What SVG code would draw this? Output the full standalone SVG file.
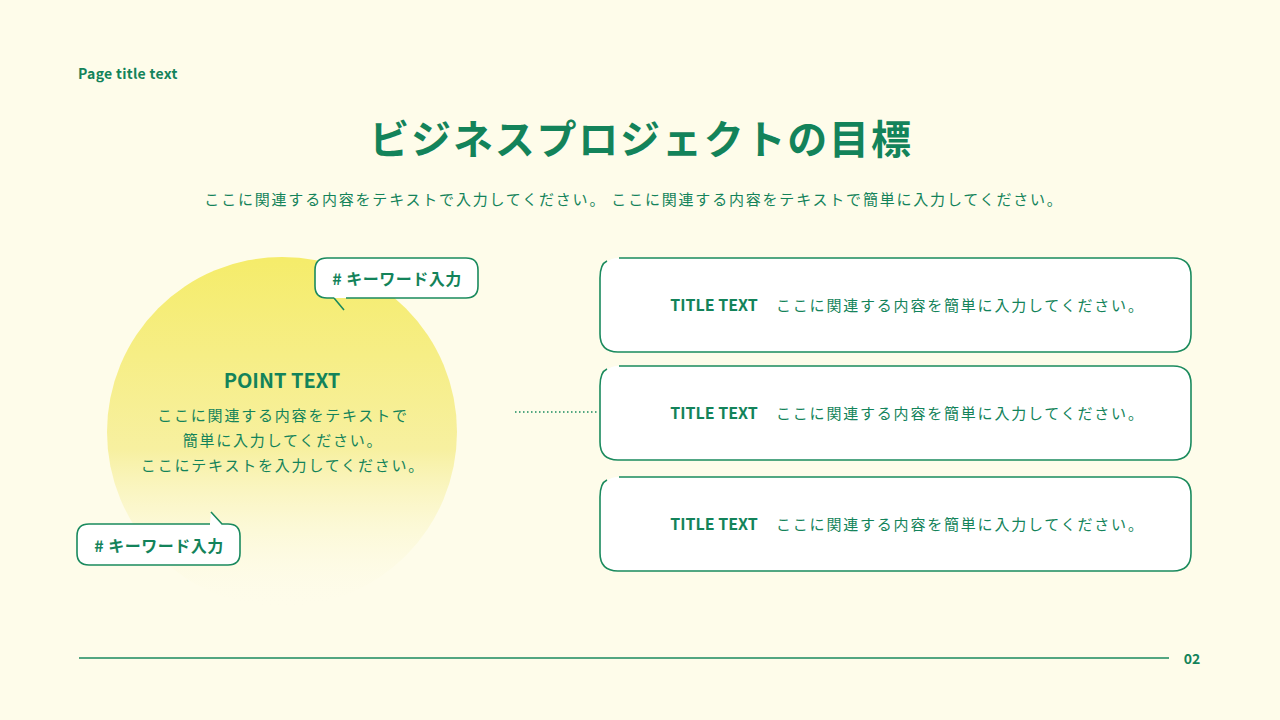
<svg xmlns="http://www.w3.org/2000/svg" width="1280" height="720" viewBox="0 0 1280 720">
<style>
text{font-family:"Noto Sans CJK JP","Noto Sans",sans-serif;fill:#13835a}
.b{font-weight:700}
.j{letter-spacing:1.8px}
.box{fill:#fff;stroke:#1a8a5e;stroke-width:1.6}
.wl{fill:none;stroke:#1a8a5e;stroke-width:1.6}
</style>
<defs>
<linearGradient id="g" x1="0" y1="0" x2="0" y2="1">
<stop offset="0" stop-color="#f5ec6a"/>
<stop offset="0.55" stop-color="#f7f0a0"/>
<stop offset="1" stop-color="#fdfbe8" stop-opacity="0"/>
</linearGradient>
</defs>
<rect width="1280" height="720" fill="#fefcea"/>
<text x="78" y="79" font-size="14" class="b" letter-spacing="0.3">Page title text</text>
<text x="641" y="154" font-size="40" text-anchor="middle" class="b j">ビジネスプロジェクトの目標</text>
<text x="634" y="205" font-size="15" text-anchor="middle" class="j">ここに関連する内容をテキストで入力してください。 ここに関連する内容をテキストで簡単に入力してください。</text>
<circle id="circle" cx="282" cy="432" r="175" fill="url(#g)"/>
<g id="point">
<text x="282" y="388" font-size="20" text-anchor="middle" class="b">POINT TEXT</text>
<text x="283" y="421" font-size="15" text-anchor="middle" class="j">ここに関連する内容をテキストで</text>
<text x="283" y="446" font-size="15" text-anchor="middle" class="j">簡単に入力してください。</text>
<text x="283" y="471" font-size="15" text-anchor="middle" class="j">ここにテキストを入力してください。</text>
</g>
<g id="bubble1">
<path class="box" d="M334,298 H327 Q315,298 315,286 V270 Q315,258 327,258 H466 Q478,258 478,270 V286 Q478,298 466,298 H346 M334,298 L344,310"/>
<text x="397" y="285" font-size="16" text-anchor="middle" class="b" letter-spacing="0.5"># キーワード入力</text>
</g>
<g id="bubble2">
<path class="box" d="M210,524 H89 Q77,524 77,536 V553 Q77,565 89,565 H228 Q240,565 240,553 V536 Q240,524 228,524 H222 L211,512"/>
<text x="159" y="552" font-size="16" text-anchor="middle" class="b" letter-spacing="0.5"># キーワード入力</text>
</g>
<g id="connectors">
<line x1="515" y1="412" x2="598" y2="412" stroke="#1a8a5e" stroke-width="1.5" stroke-dasharray="1.5,2.5"/>
</g>
<g id="box1">
<rect x="600" y="258" width="591" height="94" rx="18" fill="#fff"/>
<path class="wl" d="M619,258 H1173 Q1191,258 1191,276 V334 Q1191,352 1173,352 H618 Q600,352 600,334 V278 Q600,264 607,261"/>
<text x="714" y="311" font-size="16" text-anchor="middle" class="b">TITLE TEXT</text>
<text x="776" y="311" font-size="15" class="j">ここに関連する内容を簡単に入力してください。</text>
</g>
<g id="box2">
<rect x="600" y="366" width="591" height="94" rx="18" fill="#fff"/>
<path class="wl" d="M619,366 H1173 Q1191,366 1191,384 V442 Q1191,460 1173,460 H618 Q600,460 600,442 V386 Q600,372 607,369"/>
<text x="714" y="419" font-size="16" text-anchor="middle" class="b">TITLE TEXT</text>
<text x="776" y="419" font-size="15" class="j">ここに関連する内容を簡単に入力してください。</text>
</g>
<g id="box3">
<rect x="600" y="477" width="591" height="94" rx="18" fill="#fff"/>
<path class="wl" d="M619,477 H1173 Q1191,477 1191,495 V553 Q1191,571 1173,571 H618 Q600,571 600,553 V497 Q600,483 607,480"/>
<text x="714" y="530" font-size="16" text-anchor="middle" class="b">TITLE TEXT</text>
<text x="776" y="530" font-size="15" class="j">ここに関連する内容を簡単に入力してください。</text>
</g>
<line x1="79" y1="658" x2="1169" y2="658" stroke="#1a8a5e" stroke-width="1.5"/>
<text x="1192" y="664" font-size="14" text-anchor="middle" class="b">02</text>
</svg>
